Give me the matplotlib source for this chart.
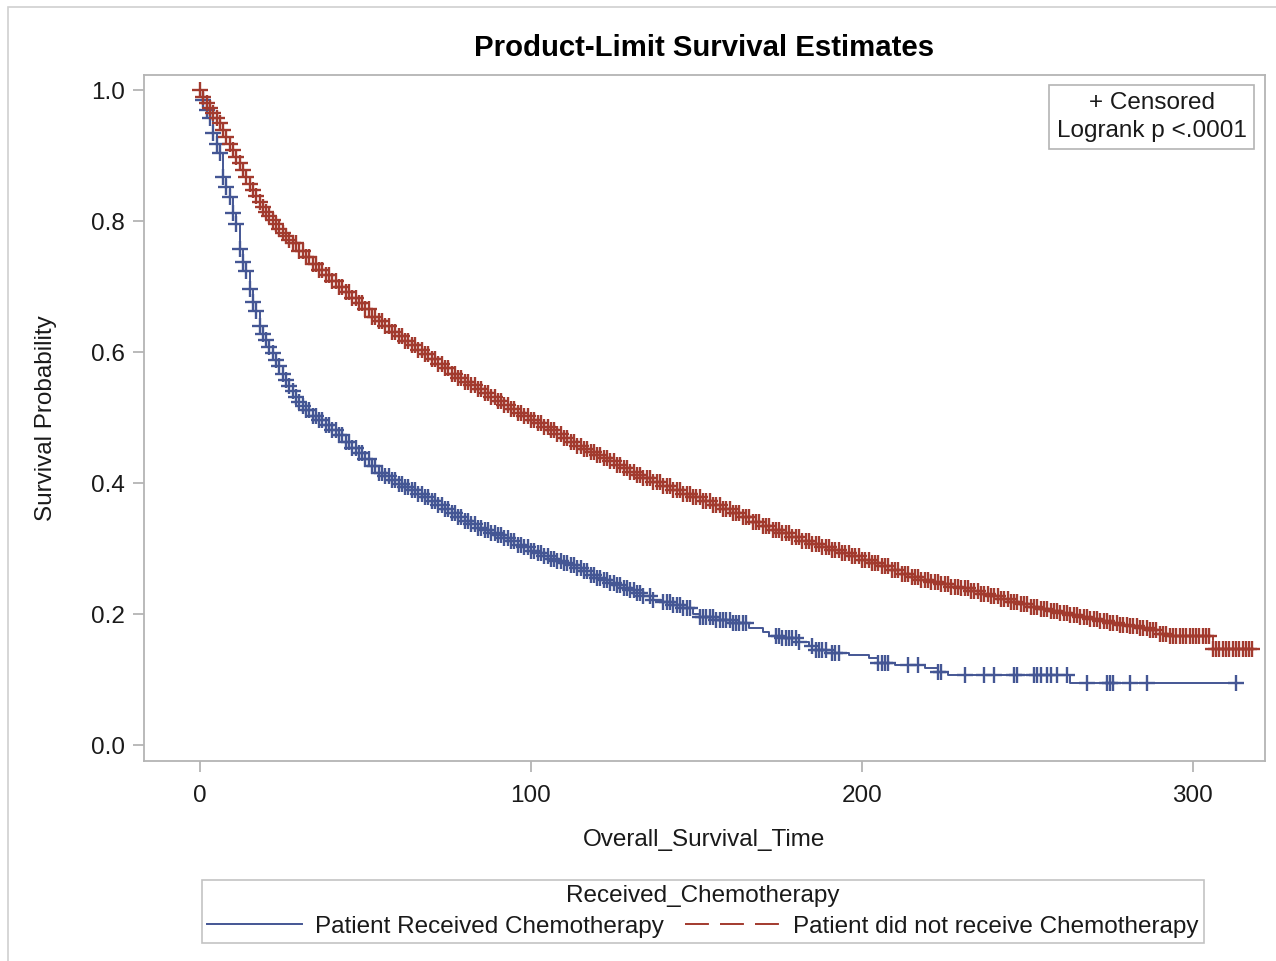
import matplotlib
matplotlib.use("Agg")
import numpy as np
import matplotlib.pyplot as plt
from matplotlib.lines import Line2D
from matplotlib.patches import Rectangle

plt.rcParams['font.family'] = ['Liberation Sans', 'DejaVu Sans']

# --- survival steps (time, survival) ---
# Patient Received Chemotherapy (blue)
chemo_t = [0, 1, 2, 3, 4, 5, 6, 7, 8, 9, 10, 11, 12, 13, 14, 15, 16, 17, 18, 19,
           20, 21, 22, 23, 24, 25, 26, 27, 28, 29, 30, 31, 32, 34, 36, 38, 40, 42,
           44, 46, 48, 50, 52, 54, 56, 58, 60, 62, 64, 66, 68, 70, 72, 74, 76, 78,
           80, 82, 84, 86, 88, 90, 92, 94, 96, 98, 100, 102, 104, 106, 108, 110,
           112, 114, 116, 118, 120, 122, 124, 126, 128, 130, 132, 134, 137, 140,
           143, 146, 149, 151, 156, 161, 166, 170, 172, 176, 181, 184, 186, 191,
           196, 202, 205, 210, 219, 223, 226, 263, 313]
chemo_s = [1.000, 0.985, 0.970, 0.958, 0.934, 0.918, 0.904, 0.867, 0.852, 0.837,
           0.812, 0.795, 0.758, 0.738, 0.724, 0.697, 0.677, 0.662, 0.640, 0.628,
           0.618, 0.608, 0.598, 0.588, 0.578, 0.567, 0.557, 0.548, 0.540, 0.531,
           0.524, 0.517, 0.511, 0.503, 0.496, 0.489, 0.481, 0.473, 0.462, 0.454,
           0.446, 0.437, 0.426, 0.416, 0.410, 0.404, 0.399, 0.394, 0.389, 0.383,
           0.378, 0.372, 0.366, 0.360, 0.354, 0.348, 0.342, 0.337, 0.332, 0.328,
           0.324, 0.320, 0.316, 0.311, 0.306, 0.302, 0.297, 0.293, 0.288, 0.284,
           0.281, 0.278, 0.275, 0.271, 0.265, 0.259, 0.255, 0.252, 0.248, 0.244,
           0.240, 0.236, 0.232, 0.227, 0.222, 0.218, 0.214, 0.209, 0.200, 0.195,
           0.191, 0.186, 0.179, 0.172, 0.167, 0.163, 0.157, 0.151, 0.145, 0.140,
           0.137, 0.133, 0.125, 0.122, 0.118, 0.111, 0.107, 0.095, 0.095]

# Patient did not receive Chemotherapy (red)
nochemo_t = [0, 1, 2, 3, 4, 5, 6, 7, 8, 9, 10, 11, 12, 13, 14, 15, 16, 17, 18, 19,
             20, 21, 22, 23, 24, 25, 26, 27, 28, 30, 32, 34, 36, 38, 40, 42, 44, 46,
             48, 50, 52, 54, 56, 58, 60, 62, 64, 66, 68, 70, 72, 74, 76, 78, 80, 82,
             84, 86, 88, 90, 92, 94, 96, 98, 100, 102, 104, 106, 108, 110, 112, 114,
             116, 118, 120, 122, 124, 126, 128, 130, 132, 134, 137, 140, 143, 146,
             149, 152, 155, 158, 161, 164, 167, 170, 173, 176, 179, 182, 185, 188,
             191, 194, 197, 200, 203, 206, 209, 212, 215, 218, 221, 224, 227, 230,
             233, 236, 239, 242, 245, 248, 251, 254, 257, 260, 263, 266, 269, 272,
             275, 278, 281, 284, 287, 290, 293, 306, 318]
nochemo_s = [1.000, 0.990, 0.980, 0.972, 0.965, 0.958, 0.950, 0.939, 0.928, 0.918,
             0.908, 0.898, 0.889, 0.878, 0.867, 0.857, 0.847, 0.838, 0.829, 0.821,
             0.814, 0.808, 0.802, 0.795, 0.788, 0.782, 0.777, 0.771, 0.766, 0.755,
             0.745, 0.735, 0.726, 0.717, 0.708, 0.699, 0.691, 0.683, 0.675, 0.665,
             0.654, 0.647, 0.640, 0.631, 0.624, 0.617, 0.610, 0.603, 0.597, 0.590,
             0.582, 0.575, 0.567, 0.561, 0.555, 0.549, 0.543, 0.537, 0.531, 0.525,
             0.519, 0.513, 0.507, 0.502, 0.497, 0.491, 0.486, 0.481, 0.475, 0.469,
             0.463, 0.457, 0.452, 0.447, 0.443, 0.438, 0.433, 0.428, 0.423, 0.417,
             0.412, 0.407, 0.401, 0.396, 0.390, 0.384, 0.378, 0.372, 0.366, 0.360,
             0.354, 0.348, 0.341, 0.335, 0.329, 0.323, 0.317, 0.312, 0.307, 0.302,
             0.298, 0.293, 0.288, 0.283, 0.278, 0.273, 0.267, 0.261, 0.256, 0.252,
             0.249, 0.246, 0.242, 0.239, 0.235, 0.231, 0.227, 0.223, 0.219, 0.215,
             0.211, 0.208, 0.205, 0.201, 0.198, 0.195, 0.192, 0.190, 0.187, 0.184,
             0.181, 0.178, 0.175, 0.170, 0.166, 0.146, 0.146]

# censoring times (months) where the '+' marks sit
chemo_cens = [1, 2, 3, 4, 5, 6, 7, 8, 9, 10, 11, 12, 13, 14, 15, 16, 17, 18, 19, 20,
              21, 22, 23, 24, 25, 26, 27, 28, 29, 30, 31, 32, 33, 34, 35, 36, 37, 38,
              39, 40, 41, 42, 43, 44, 45, 46, 47, 48, 49, 50, 51, 52, 53, 54, 55, 56,
              57, 58, 59, 60, 61, 62, 63, 64, 65, 66, 67, 68, 69, 70, 71, 72, 73, 74,
              75, 76, 77, 78, 79, 80, 81, 82, 83, 84, 85, 86, 87, 88, 89, 90, 91, 92,
              93, 94, 95, 96, 97, 98, 99, 100, 101, 102, 103, 104, 105, 106, 107, 108,
              109, 110, 111, 112, 113, 114, 115, 116, 117, 118, 119, 120, 121, 122,
              123, 124, 125, 126, 127, 128, 129, 130, 131, 132, 133, 134, 136, 137,
              140, 141, 142, 143, 144, 145, 146, 147, 148, 151, 152, 153, 154, 155,
              156, 157, 158, 159, 160, 161, 162, 163, 164, 165, 174, 175, 176, 177,
              178, 179, 180, 181, 185, 186, 187, 188, 189, 191, 192, 193, 205, 206,
              207, 208, 214, 217, 223, 224, 231, 237, 240, 246, 247, 252, 253, 254,
              256, 257, 259, 262, 268, 274, 275, 276, 281, 286, 313]
nochemo_cens = [0, 1, 2, 3, 4, 5, 6, 7, 8, 9, 10, 11, 12, 13, 14, 15, 16, 17, 18, 19,
                20, 21, 22, 23, 24, 25, 26, 27, 28, 29, 30, 31, 32, 33, 34, 35, 36, 37,
                38, 39, 40, 41, 42, 43, 44, 45, 46, 47, 48, 49, 50, 51, 52, 53, 54, 55,
                56, 57, 58, 59, 60, 61, 62, 63, 64, 65, 66, 67, 68, 69, 70, 71, 72, 73,
                74, 75, 76, 77, 78, 79, 80, 81, 82, 83, 84, 85, 86, 87, 88, 89, 90, 91,
                92, 93, 94, 95, 96, 97, 98, 99, 100, 101, 102, 103, 104, 105, 106, 107,
                108, 109, 110, 111, 112, 113, 114, 115, 116, 117, 118, 119, 120, 121,
                122, 123, 124, 125, 126, 127, 128, 129, 130, 131, 132, 133, 134, 135,
                136, 137, 138, 139, 140, 141, 142, 143, 144, 145, 146, 147, 148, 149,
                150, 151, 152, 153, 154, 155, 156, 157, 158, 159, 160, 161, 162, 163,
                164, 165, 166, 167, 168, 169, 170, 171, 172, 173, 174, 175, 176, 177,
                178, 179, 180, 181, 182, 183, 184, 185, 186, 187, 188, 189, 190, 191,
                192, 193, 194, 195, 196, 197, 198, 199, 200, 201, 202, 203, 204, 205,
                206, 207, 208, 209, 210, 211, 212, 213, 214, 215, 216, 217, 218, 219,
                220, 221, 222, 223, 224, 225, 226, 227, 228, 229, 230, 231, 232, 233,
                234, 235, 236, 237, 238, 239, 240, 241, 242, 243, 244, 245, 246, 247,
                248, 249, 250, 251, 252, 253, 254, 255, 256, 257, 258, 259, 260, 261,
                262, 263, 264, 265, 266, 267, 268, 269, 270, 271, 272, 273, 274, 275,
                276, 277, 278, 279, 280, 281, 282, 283, 284, 285, 286, 287, 288, 289,
                290, 291, 292, 293, 294, 295, 296, 297, 298, 299, 300, 301, 302, 303,
                304, 305, 306, 307, 308, 309, 310, 311, 312, 313, 314, 315, 316, 317,
                318]

x_ticks = [0, 100, 200, 300]
y_ticks = [0.0, 0.2, 0.4, 0.6, 0.8, 1.0]

BLUE = '#445694'
RED = '#A23A2E'
GRAY = '#b4b4b4'
TXT = '#1a1a1a'
FS = 17.5
DASH = (0, (12.3, 5.7))


def step_value(times, surv, at):
    # value of the step function S(t) just after time `at`
    idx = np.searchsorted(np.asarray(times), np.asarray(at), side='right') - 1
    return np.asarray(surv)[idx]


fig = plt.figure(figsize=(12.76, 9.61), dpi=100)
ax = fig.add_axes([0.1129, 0.2081, 0.8785, 0.7138])

ax.plot(chemo_t, chemo_s, drawstyle='steps-post', color=BLUE, lw=1.4)
ax.plot(nochemo_t, nochemo_s, drawstyle='steps-post', color=RED, lw=1.4,
        linestyle=DASH)

ax.plot(chemo_cens, step_value(chemo_t, chemo_s, chemo_cens), linestyle='none',
        marker='+', markersize=12, markeredgewidth=1.7, color=BLUE)
ax.plot(nochemo_cens, step_value(nochemo_t, nochemo_s, nochemo_cens), linestyle='none',
        marker='+', markersize=12, markeredgewidth=1.7, color=RED)

ax.set_xlim(-16.9, 321.8)
ax.set_ylim(-0.0244, 1.0229)
ax.set_xticks(x_ticks)
ax.set_yticks(y_ticks)
ax.set_yticklabels([f'{v:.1f}' for v in y_ticks])

for sp in ax.spines.values():
    sp.set_color(GRAY)
    sp.set_linewidth(1.3)
ax.tick_params(axis='both', colors=GRAY, length=8, width=1.3, labelcolor=TXT,
               labelsize=FS)
ax.tick_params(axis='x', pad=9)
ax.tick_params(axis='y', pad=6)

ax.set_xlabel('Overall_Survival_Time', fontsize=FS, color=TXT, labelpad=16)
ax.set_ylabel('Survival Probability', fontsize=FS, color=TXT, labelpad=24)
ax.set_title('Product-Limit Survival Estimates', fontsize=21.2, fontweight='bold',
             color='black', pad=14)

# inset box with censoring note and logrank test
ax.text(0.8988, 0.975, '+ Censored\nLogrank p <.0001', transform=ax.transAxes,
        ha='center', va='top', fontsize=FS, color=TXT, linespacing=1.35,
        bbox=dict(boxstyle='square,pad=0.3', facecolor='white', edgecolor=GRAY,
                  linewidth=1.2))

handles = [Line2D([], [], color=BLUE, lw=1.4),
           Line2D([], [], color=RED, lw=1.4, linestyle=DASH)]
leg = fig.legend(handles, ['Patient Received Chemotherapy',
                           'Patient did not receive Chemotherapy'],
                 title='Received_Chemotherapy', ncol=2, loc='center',
                 bbox_to_anchor=(703 / 1276, 1 - 911.5 / 961), fontsize=FS,
                 title_fontsize=FS, frameon=True, fancybox=False,
                 handlelength=3.9, handletextpad=0.55, columnspacing=0.85,
                 borderpad=0.2, labelspacing=0.35, borderaxespad=0)
leg.get_frame().set_edgecolor(GRAY)
leg.get_frame().set_linewidth(1.2)
for txt in leg.get_texts():
    txt.set_color(TXT)
leg.get_title().set_color(TXT)

# outer graph border
fig.patches.append(Rectangle((8 / 1276, -0.05), 1.2, 1 - 7 / 961 + 0.05,
                             transform=fig.transFigure, fill=False,
                             edgecolor='#d0d0d0', linewidth=1.2))

fig.savefig('out.png', dpi=100)
